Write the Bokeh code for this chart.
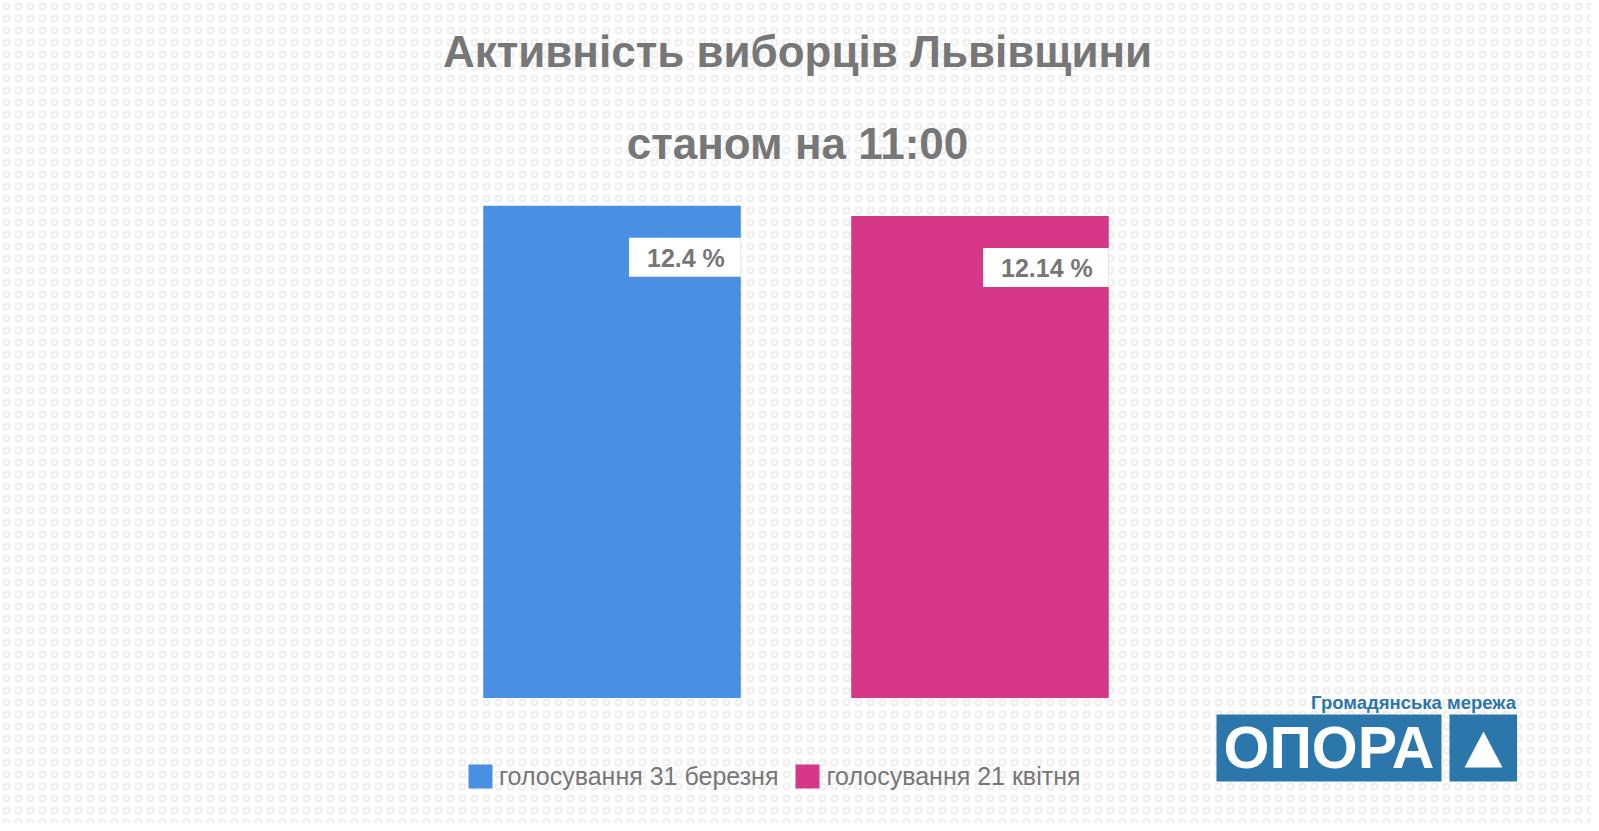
from bokeh.plotting import figure
from bokeh.models import FactorRange, Range1d, Label, BoxAnnotation, PolyAnnotation
from bokeh.transform import dodge
from bokeh.core.properties import value
from bokeh.embed import file_html
from bokeh.resources import INLINE

# data
categories = ["голосування 31 березня", "голосування 21 квітня"]
turnout = [12.4, 12.14]
value_labels = ["12.4 %", "12.14 %"]
bar_colors = ["#4a90e2", "#d63787"]

title_lines = ["Активність виборців Львівщини", "станом на 11:00"]
logo_caption = "Громадянська мережа"
logo_name = "ОПОРА"

FONT = "Liberation Sans"
GREY = "#777777"
LOGO_BLUE = "#2b77ab"

p = figure(width=1591, height=823, output_backend="svg", toolbar_location=None,
           x_range=FactorRange(factors=categories, range_padding=1.162,
                               range_padding_units="absolute"),
           y_range=Range1d(-3.161, 17.569),
           x_axis_location=None, y_axis_location=None,
           min_border_left=0, min_border_right=0, min_border_top=0, min_border_bottom=0)
p.grid.visible = False
p.outline_line_color = None
p.background_fill_color = "white"

# faint dotted backdrop
p.add_layout(BoxAnnotation(fill_alpha=0, line_alpha=0, hatch_pattern="o",
                           hatch_color="#eeeeee", hatch_scale=12, hatch_weight=2,
                           level="underlay"))

src = dict(cat=categories, val=turnout, lab=value_labels, color=bar_colors)
p.vbar(x="cat", top="val", bottom=0, width=0.7, color="color", line_color=None,
       legend_field="cat", source=src)

p.text(x=dodge("cat", 0.35, range=p.x_range), y="val", text="lab", source=src,
       anchor="top_right", y_offset=32, text_font=value(FONT), text_font_style="bold",
       text_font_size="25px", text_color=GREY, background_fill_color="white",
       padding=dict(left=18, right=16, top=6, bottom=5))

# title
for txt, yy in zip(title_lines, [772, 680]):
    p.add_layout(Label(x=797, y=yy, x_units="screen", y_units="screen", text=txt,
                       text_align="center", text_baseline="middle",
                       text_font=FONT, text_font_style="bold",
                       text_font_size="44px", text_color=GREY))

# legend
lg = p.legend[0]
lg.orientation = "horizontal"
lg.location = (465, 32)
lg.padding = 0
lg.margin = 0
lg.spacing = 14
lg.glyph_width = 30
lg.glyph_height = 30
lg.label_height = 30
lg.label_standoff = 4
lg.label_text_font = FONT
lg.label_text_font_size = "25px"
lg.label_text_color = GREY
lg.background_fill_alpha = 0
lg.border_line_alpha = 0

# logo
p.add_layout(BoxAnnotation(left=1216, right=1441, bottom=42, top=109,
                           left_units="screen", right_units="screen",
                           bottom_units="screen", top_units="screen",
                           fill_color=LOGO_BLUE, fill_alpha=1, line_alpha=0))
p.add_layout(BoxAnnotation(left=1449, right=1516.6, bottom=42, top=109,
                           left_units="screen", right_units="screen",
                           bottom_units="screen", top_units="screen",
                           fill_color=LOGO_BLUE, fill_alpha=1, line_alpha=0))
p.add_layout(PolyAnnotation(xs=[1464, 1483, 1502], ys=[56, 92, 56],
                            xs_units="screen", ys_units="screen",
                            fill_color="white", fill_alpha=1, line_alpha=0))
p.add_layout(Label(x=1328.5, y=76, x_units="screen", y_units="screen", text=logo_name,
                   text_align="center", text_baseline="middle", text_font=FONT,
                   text_font_style="bold", text_font_size="59px", text_color="white"))
p.add_layout(Label(x=1515.5, y=121.5, x_units="screen", y_units="screen", text=logo_caption,
                   text_align="right", text_baseline="middle", text_font=FONT,
                   text_font_style="bold", text_font_size="18.5px", text_color=LOGO_BLUE))

open("out.html", "w").write(file_html(p, INLINE))
